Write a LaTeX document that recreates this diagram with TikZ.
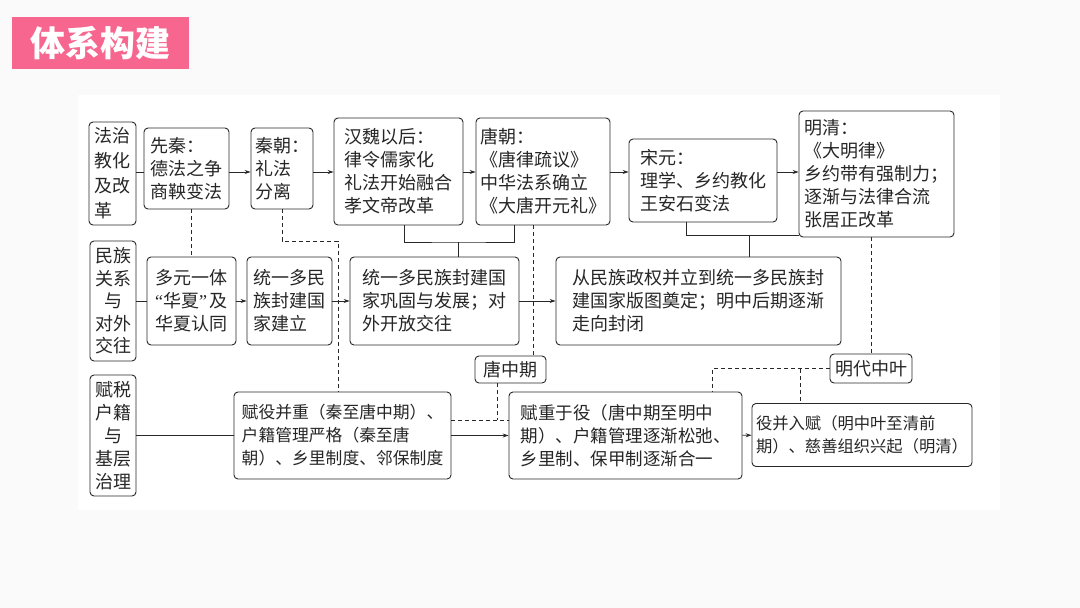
\documentclass[tikz,border=0pt]{standalone}
\usepackage{fontspec}
\usepackage{tikz}
\usetikzlibrary{arrows.meta, positioning}
\newfontfamily\cjk{Noto Sans CJK SC}
\newfontfamily\quotefont{Liberation Serif}
\definecolor{titlepink}{RGB}{247,102,143}
\definecolor{linegray}{RGB}{40,40,40}
\definecolor{slidebg}{RGB}{250,250,250}
\tikzset{
  box/.style={
    rectangle, rounded corners=4pt, draw=linegray, line width=0.9pt,
    fill=white, align=left, inner sep=3pt,
    font=\cjk\fontsize{18}{23}\selectfont, text=black!85
  },
  catbox/.style={box, align=center, inner sep=1pt},
  tag/.style={box, align=center, inner sep=2pt},
  arrow/.style={-{Stealth[length=6pt,width=4pt]}, line width=0.8pt, color=linegray},
  link/.style={line width=0.8pt, color=linegray},
  dashlink/.style={dash pattern=on 4pt off 3pt, line width=0.7pt, color=linegray}
}
\begin{document}
\begin{tikzpicture}[x=1pt, y=-1pt]
  \fill[slidebg] (0,0) rectangle (1080,608);
  \useasboundingbox (0,0) rectangle (1080,608);
  \fill[white] (78,95) rectangle (1000,510);
  \node[fill=titlepink, minimum width=177, minimum height=52, text=white,
        font=\cjk\bfseries\fontsize{35}{35}\selectfont] (title) at (100.5,43) {体系构建};

  \node[catbox, align=left, minimum width=47, minimum height=103,
        font=\cjk\fontsize{18}{25}\selectfont] (fazhi) at (112.5,173.5) {法治\\教化\\及改\\革};
  \node[box, minimum width=85, minimum height=81] (xianqin) at (186.5,168.5)
    {先秦：\\德法之争\\商鞅变法};
  \node[box, minimum width=62, minimum height=81] (qinchao) at (282,168.5)
    {秦朝：\\礼法\\分离};
  \node[box, minimum width=129, minimum height=107] (hanwei) at (398.5,171.5)
    {汉魏以后：\\律令儒家化\\礼法开始融合\\孝文帝改革};
  \node[box, minimum width=134, minimum height=107] (tangchao) at (543,171.5)
    {唐朝：\\《唐律疏议》\\中华法系确立\\《大唐开元礼》};
  \node[box, minimum width=148, minimum height=83] (songyuan) at (703,180.5)
    {宋元：\\理学、乡约教化\\王安石变法};
  \node[box, minimum width=155, minimum height=126] (mingqing) at (876.5,174)
    {明清：\\《大明律》\\乡约带有强制力；\\逐渐与法律合流\\张居正改革};

  \node[catbox, minimum width=46, minimum height=120,
        font=\cjk\fontsize{18}{22.5}\selectfont] (minzu) at (113,301) {民族\\关系\\与\\对外\\交往};
  \node[box, minimum width=89, minimum height=88] (duoyuan) at (191.5,301)
    {多元一体\\{\quotefont“}华夏{\quotefont”}\,及\\华夏认同};
  \node[box, minimum width=85, minimum height=88] (jianli) at (289.5,301)
    {统一多民\\族封建国\\家建立};
  \node[box, minimum width=169, minimum height=88] (gonggu) at (434.5,301)
    {统一多民族封建国\\家巩固与发展；对\\外开放交往};
  \node[box, minimum width=285, minimum height=88] (bantu) at (698.5,301)
    {从民族政权并立到统一多民族封\\建国家版图奠定；明中后期逐渐\\走向封闭};

  \node[tag, minimum width=71, minimum height=27] (tangzhong) at (510.5,369.5) {唐中期};
  \node[tag, minimum width=82, minimum height=29] (mingzhong) at (871,368.5) {明代中叶};

  \node[catbox, minimum width=46, minimum height=121] (fushui) at (113,435.5)
    {赋税\\户籍\\与\\基层\\治理};
  \node[box, minimum width=217, minimum height=87,
        font=\cjk\fontsize{16.8}{23}\selectfont] (fuyi) at (342.5,435.5)
    {赋役并重（秦至唐中期）、\\户籍管理严格（秦至唐\\朝）、乡里制度、邻保制度};
  \node[box, minimum width=233, minimum height=87,
        font=\cjk\fontsize{17.5}{23}\selectfont] (fuzhong) at (625.5,435.5)
    {赋重于役（唐中期至明中\\期）、户籍管理逐渐松弛、\\乡里制、保甲制逐渐合一};
  \node[box, minimum width=220, minimum height=63, inner sep=2pt,
        font=\cjk\fontsize{16.3}{23}\selectfont] (yibing) at (862,435)
    {役并入赋（明中叶至清前\\期）、慈善组织兴起（明清）};

  \coordinate (row1) at (0,172);
  \coordinate (j1) at (458,242);
  \coordinate (j2) at (749,235);
  \coordinate (q1) at (338,241);
  \coordinate (t1) at (497,420);
  \coordinate (m1) at (712,369);
  \coordinate (m2) at (800,369);

  \draw[link] (fazhi.east |- row1) -- (xianqin.west |- row1);
  \draw[arrow] (xianqin.east |- row1) -- (qinchao.west |- row1);
  \draw[arrow] (qinchao.east |- row1) -- (hanwei.west |- row1);
  \draw[arrow] (hanwei.east |- row1) -- (tangchao.west |- row1);
  \draw[arrow] (tangchao.east |- row1) -- (songyuan.west |- row1);
  \draw[arrow] (songyuan.east |- row1) -- (mingqing.west |- row1);
  \draw[link] ([xshift=5.5pt]hanwei.south) |- (j1) -| ([xshift=-29pt]tangchao.south);
  \draw[link] (j1) -- (j1 |- gonggu.north);
  \draw[link] ([xshift=-17pt]songyuan.south) |- (mingqing.west |- j2);
  \draw[link] (j2) -- (j2 |- bantu.north);

  \draw[link] (minzu) -- (duoyuan);
  \draw[arrow] (duoyuan) -- (jianli);
  \draw[arrow] (jianli) -- (gonggu);
  \draw[arrow] (gonggu) -- (bantu);

  \draw[link] (fushui) -- (fuyi);
  \draw[arrow] (fuyi) -- (fuzhong);
  \draw[arrow] (fuzhong) -- (yibing);

  \draw[dashlink] (xianqin.south -| duoyuan.north) -- (duoyuan.north);
  \draw[dashlink] (qinchao.south) |- (q1) -- (q1 |- fuyi.north);
  \draw[dashlink] ([xshift=-10pt]tangchao.south) -- ([xshift=-10pt]tangchao.south |- tangzhong.north);
  \draw[dashlink] (t1 |- tangzhong.south) -- (t1);
  \draw[dashlink] (fuyi.east |- t1) -- (fuzhong.west |- t1);
  \draw[dashlink] (mingqing.south -| mingzhong.north) -- (mingzhong.north);
  \draw[dashlink] (mingzhong.west) -| (m1 |- fuzhong.north);
  \draw[dashlink] (m2) -- (m2 |- yibing.north);
\end{tikzpicture}
\end{document}
